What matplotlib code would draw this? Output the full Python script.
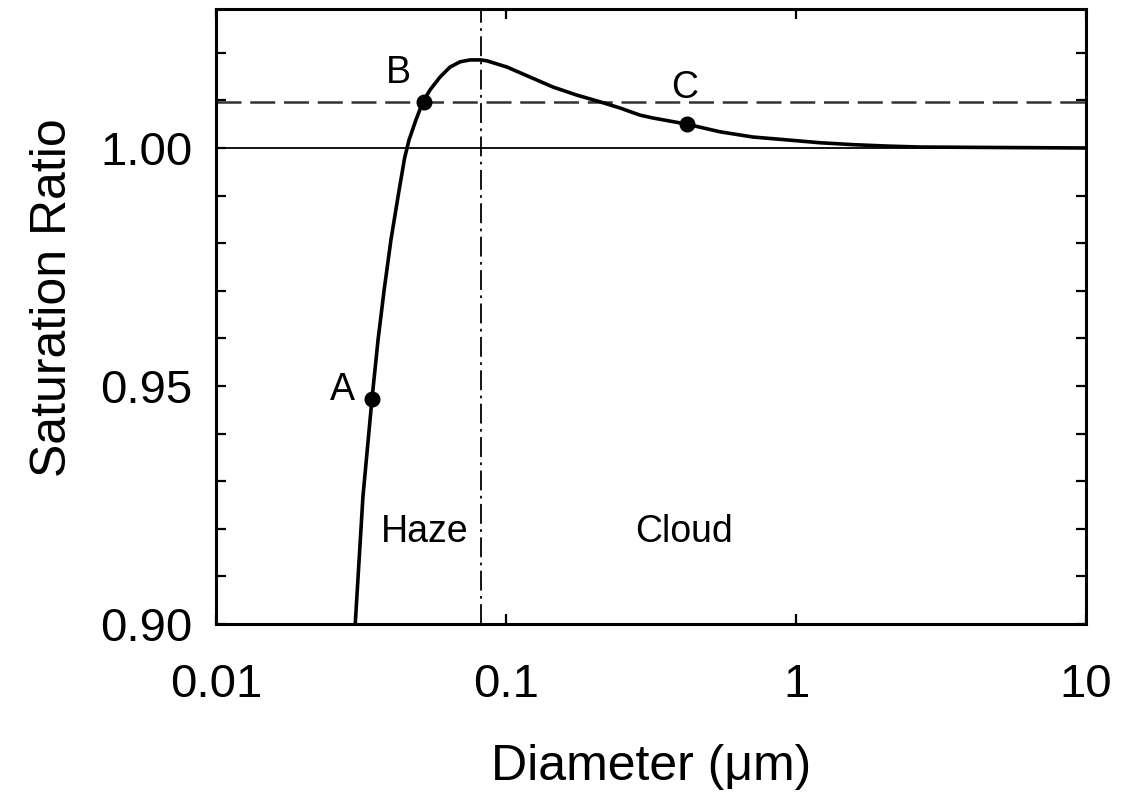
import matplotlib

matplotlib.use("Agg")
import matplotlib.pyplot as plt
from matplotlib.ticker import FixedLocator, MultipleLocator, FixedFormatter

plt.rcParams.update(
    {
        "font.family": ["Liberation Sans", "DejaVu Sans"],
        "axes.linewidth": 2.2,
    }
)

# Kohler curve (diameter in um, saturation ratio)
diameter = [0.0302, 0.0321, 0.0345, 0.0362, 0.0380, 0.0401, 0.0428, 0.0447,
            0.0463, 0.0489, 0.0517, 0.0547, 0.0592, 0.0641, 0.0694, 0.0752,
            0.0820, 0.0860, 0.1008, 0.1210, 0.1453, 0.1757, 0.2109, 0.2472,
            0.2898, 0.3212, 0.4208, 0.5469, 0.7108, 0.9311, 1.210, 1.573,
            2.060, 2.677, 5.0, 10.0]
saturation = [0.9000, 0.9267, 0.9473, 0.9597, 0.9702, 0.9807, 0.9912, 0.9979,
              1.0017, 1.0059, 1.0097, 1.0122, 1.0149, 1.0170, 1.0181, 1.0185,
              1.0185, 1.0183, 1.0170, 1.0149, 1.0128, 1.0111, 1.0097, 1.0084,
              1.0069, 1.0063, 1.0050, 1.0034, 1.0023, 1.0017, 1.0011, 1.0007,
              1.0004, 1.0002, 1.0001, 1.0000]

point_labels = ["A", "B", "C"]
point_d = [0.0345, 0.0520, 0.421]
point_s = [0.9473, 1.0096, 1.0050]

ambient_s = 1.0097  # dashed line
critical_d = 0.082  # dash-dot line
region_labels = ["Haze", "Cloud"]

fig = plt.figure(figsize=(11.24, 7.96), dpi=100)
ax = fig.add_axes([0.1922, 0.2161, 0.774, 0.7726])

ax.plot(diameter, saturation, color="k", lw=2.6, zorder=4)
ax.axhline(1.0, color="k", lw=1.3, zorder=2)
ax.axhline(ambient_s, color="#333333", lw=1.8, dashes=(10, 3.5), zorder=2)
ax.axvline(critical_d, color="k", lw=1.3, dashes=(11, 3, 1.5, 3), zorder=2)
ax.plot(point_d, point_s, "o", color="k", ms=10.5, zorder=5)

label_kw = dict(fontsize=27, ha="center", va="center_baseline")
ax.text(0.0272, 0.9500, point_labels[0], **label_kw)
ax.text(0.0425, 1.0165, point_labels[1], **label_kw)
ax.text(0.412, 1.0134, point_labels[2], **label_kw)
ax.text(0.0526, 0.9202, region_labels[0], **label_kw)
ax.text(0.41, 0.9202, region_labels[1], **label_kw)

ax.set_xscale("log")
ax.set_xlim(0.01, 10)
ax.set_ylim(0.90, 1.0292)

ax.xaxis.set_major_locator(FixedLocator([0.01, 0.1, 1, 10]))
ax.xaxis.set_major_formatter(FixedFormatter(["0.01", "0.1", "1", "10"]))
ax.xaxis.set_minor_locator(FixedLocator([]))
ax.yaxis.set_major_locator(FixedLocator([0.90, 0.95, 1.00]))
ax.yaxis.set_major_formatter(FixedFormatter(["0.90", "0.95", "1.00"]))
ax.yaxis.set_minor_locator(MultipleLocator(0.01))

ax.tick_params(axis="both", which="both", direction="in", top=True, right=True,
               length=7, width=1.6, labelsize=34)
ax.tick_params(axis="x", pad=28)
ax.tick_params(axis="y", pad=17)

ax.set_xlabel("Diameter (\u03bcm)", fontsize=36)
ax.xaxis.set_label_coords(0.5, -0.195)
ax.set_ylabel("Saturation Ratio", fontsize=36)
ax.yaxis.set_label_coords(-0.161, 0.53)

fig.savefig("out.png", dpi=100)
